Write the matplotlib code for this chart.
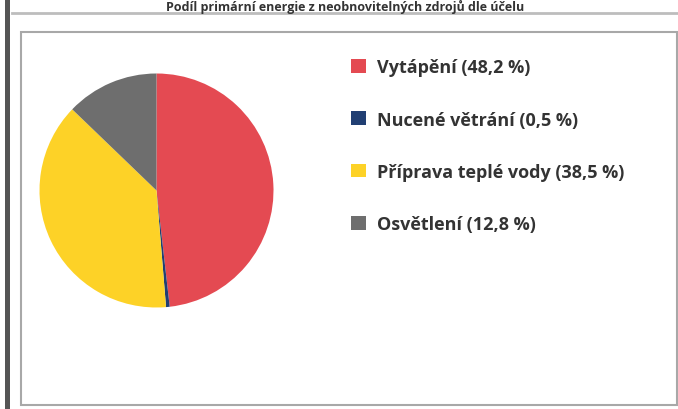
import matplotlib
matplotlib.use("Agg")
import matplotlib.pyplot as plt
from matplotlib.patches import Rectangle
from matplotlib.lines import Line2D

plt.rcParams['font.family'] = ['Open Sans', 'DejaVu Sans']

categories = ["Vytápění", "Nucené větrání", "Příprava teplé vody", "Osvětlení"]
values = [48.2, 0.5, 38.5, 12.8]
colors = ["#E44A52", "#213F73", "#FDD227", "#6E6E6E"]
title = "Podíl primární energie z neobnovitelných zdrojů dle účelu"

W, H = 678, 410
fig = plt.figure(figsize=(W / 100, H / 100), dpi=100)
fig.patch.set_facecolor("white")

def fx(px):
    return px / W

def fy(py):
    return 1 - py / H

# outer decorations
fig.patches.append(Rectangle((fx(5), 0), fx(5), 1, transform=fig.transFigure,
                             facecolor="#555555", edgecolor="none", zorder=-2))
fig.lines.append(Line2D([fx(12), 1], [fy(14), fy(14)], transform=fig.transFigure,
                        color="#BDBDBD", lw=2, zorder=-2))
fig.patches.append(Rectangle((fx(21), fy(406)), fx(656), fy(33) - fy(406),
                             transform=fig.transFigure, facecolor="white",
                             edgecolor="#A8A8A8", lw=1.5, zorder=-2))

fig.text(fx(345), fy(6.5), title, ha="center", va="center", fontsize=9,
         fontweight="bold", color="#333333")

# pie
cx, cy, r = 156.5, 191.5, 117
ax = fig.add_axes([fx(cx - r), fy(cy + r), fx(2 * r), fy(cy - r) - fy(cy + r)])
ax.set_zorder(1)
wedges, _ = ax.pie(values, colors=colors, startangle=90, counterclock=False,
                   radius=1, wedgeprops=dict(linewidth=0))
ax.set_xlim(-1, 1)
ax.set_ylim(-1, 1)
ax.axis("off")

labels = [f"{c} ({str(v).replace('.', ',')} %)" for c, v in zip(categories, values)]
leg = fig.legend(wedges, labels, loc="upper left",
                 bbox_to_anchor=(fx(344), fy(52)), frameon=False,
                 handlelength=0.8, handleheight=0.8, handletextpad=0.65,
                 labelspacing=1.9, fontsize=13, borderaxespad=0)
for t in leg.get_texts():
    t.set_fontweight("bold")
    t.set_color("#333333")

fig.savefig("out.png", dpi=100)
